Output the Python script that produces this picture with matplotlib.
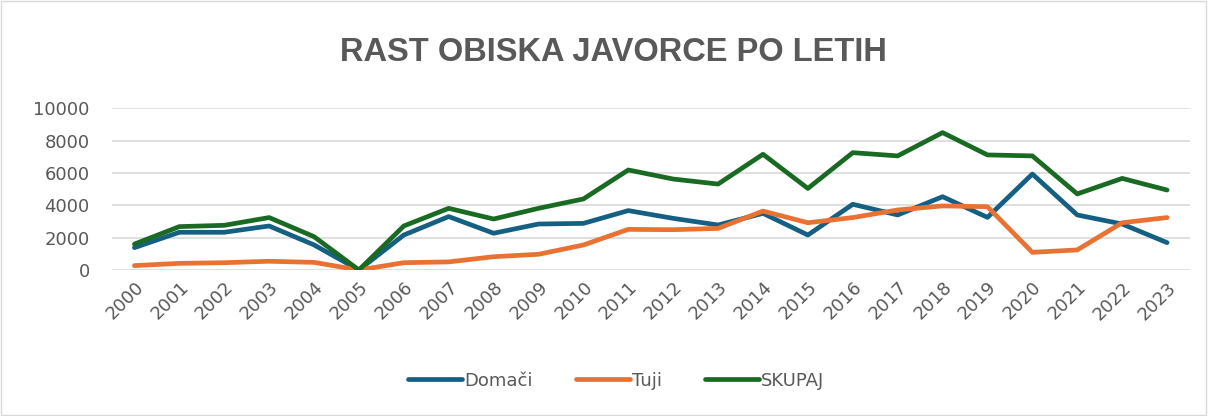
import matplotlib.pyplot as plt
from matplotlib.patches import Rectangle

leta = [str(l) for l in range(2000, 2024)]
domaci = [1380, 2330, 2330, 2720, 1550, 0, 2160, 3300, 2270, 2840, 2880, 3670,
          3190, 2780, 3500, 2160, 4060, 3400, 4530, 3250, 5930, 3400, 2840, 1690]
tuji = [270, 410, 450, 540, 470, 0, 450, 500, 820, 970, 1545, 2510,
        2490, 2570, 3640, 2920, 3240, 3710, 3960, 3910, 1090, 1240, 2920, 3240]
skupaj = [1600, 2680, 2760, 3240, 2060, 0, 2720, 3810, 3150, 3810, 4390, 6180,
          5620, 5310, 7150, 5040, 7250, 7050, 8490, 7110, 7050, 4700, 5660, 4940]

siva = '#595959'

fig = plt.figure(figsize=(12.08, 4.16), dpi=100)
ax = fig.add_axes([0.0927, 0.351, 0.892, 0.389])

x = range(len(leta))
ax.plot(x, domaci, color='#156082', lw=3.4, label='Domači', solid_capstyle='round')
ax.plot(x, tuji, color='#E97132', lw=3.4, label='Tuji', solid_capstyle='round')
ax.plot(x, skupaj, color='#196B24', lw=3.4, label='SKUPAJ', solid_capstyle='round')

ax.set_xlim(-0.5, 23.5)
ax.set_ylim(0, 10000)
ax.set_yticks(range(0, 10001, 2000))
ax.set_xticks(list(x))
ax.set_xticklabels(leta, rotation=45, ha='right', rotation_mode='anchor')
ax.tick_params(axis='both', length=0, labelsize=13, colors=siva)
ax.tick_params(axis='x', pad=6)
ax.tick_params(axis='y', pad=16)
ax.grid(axis='y', color='#D9D9D9', lw=1.2)
ax.set_axisbelow(True)
for s in ax.spines.values():
    s.set_visible(False)

fig.text(0.508, 0.873, 'RAST OBISKA JAVORCE PO LETIH', ha='center', va='center',
         fontsize=23.5, fontweight='bold', color=siva, family='Liberation Sans')

fig.legend(loc='center', bbox_to_anchor=(0.51, 0.085), ncol=3, frameon=False,
           fontsize=13, labelcolor=siva, handlelength=3.0, handletextpad=0.1,
           columnspacing=2.4)

fig.patches.append(Rectangle((0.001, 0.002), 0.997, 0.995, transform=fig.transFigure,
                             fill=False, edgecolor='#D9D9D9', lw=1))

fig.savefig('out.png', dpi=100)
